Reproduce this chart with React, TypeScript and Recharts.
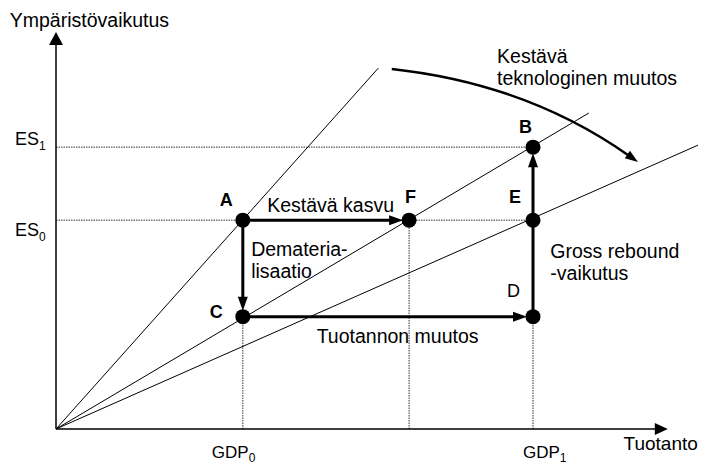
import React from 'react';
import { ComposedChart, XAxis, YAxis, Scatter, ReferenceLine, ReferenceDot } from 'recharts';

const W = 704;
const H = 464;
const FONT = '"Liberation Sans", Arial, Helvetica, sans-serif';

// axis ticks (GDP on x, ES on y)
const xTicks = [29.1, 74.3];
const xTickSubs = ['0', '1'];
const yTicks = [52.6, 71.0];
const yTickSubs = ['0', '1'];

// named states in the diagram
const pointNames = ['A', 'F', 'C', 'D', 'E', 'B'];
const pointX = [29.1, 55.0, 29.1, 74.3, 74.3, 74.3];
const pointY = [52.6, 52.6, 28.3, 28.3, 52.6, 71.0];

// rays from the origin, given by their far ends
const rayX = [50.2, 83.0, 100];
const rayY = [90.9, 79.6, 71.5];

// thick arrows between states
const arrowFrom = ['A', 'A', 'C', 'D'];
const arrowTo = ['F', 'C', 'D', 'B'];

// dotted guides: horizontal ones to these states, vertical ones to these
const hGuides = ['B', 'E'];
const vGuides = ['C', 'F', 'D'];

// curved arrow (technological change)
const curveFrom = { x: 52.3, y: 90.7 };
const curveTo = { x: 90.65, y: 67.25 };

// axis arrows
const xAxisEnd = 95.3;
const yAxisEnd = 100;

// free texts
const noteX = [32.9, 30.4, 40.6, 77.0, 68.7, -7.2, 88.4];
const noteY = [54.7, 43.6, 21.7, 43.1, 92.2, 101.3, -5.3];
const noteSize = [19.5, 19.5, 19.5, 19.5, 19.5, 19.5, 19];
const noteLines = [
  ['Kestävä kasvu'],
  ['Demateria-', 'lisaatio'],
  ['Tuotannon muutos'],
  ['Gross rebound', '-vaikutus'],
  ['Kestävä', 'teknologinen muutos'],
  ['Ympäristövaikutus'],
  ['Tuotanto'],
];

// label placement around the dots (pixels)
const labelDx = [-23, -4, -33, -26, -24, -14];
const labelDy = [-14, -17, 1, -20, -17, -14];
const labelBold = [true, true, true, false, true, true];

const pt = (name: string) => {
  const i = pointNames.indexOf(name);
  return { x: pointX[i], y: pointY[i] };
};

const arrowShape = (width: number, head: number, half: number, trim: number) => (p: any) => {
  const { x1, y1, x2, y2 } = p;
  const dx = x2 - x1;
  const dy = y2 - y1;
  const len = Math.hypot(dx, dy) || 1;
  const ux = dx / len;
  const uy = dy / len;
  const tx = x2 - ux * trim;
  const ty = y2 - uy * trim;
  const bx = tx - ux * head;
  const by = ty - uy * head;
  const nx = -uy;
  const ny = ux;
  return (
    <g>
      <line x1={x1} y1={y1} x2={bx + ux * 2} y2={by + uy * 2} stroke="#000" strokeWidth={width} />
      <polygon
        points={`${tx},${ty} ${bx + nx * half},${by + ny * half} ${bx - nx * half},${by - ny * half}`}
        fill="#000"
      />
    </g>
  );
};

const curveShape = (p: any) => {
  const { x1, y1, x2, y2 } = p;
  const dx = x2 - x1;
  const dy = y2 - y1;
  const len = Math.hypot(dx, dy) || 1;
  const cx = (x1 + x2) / 2 + (dy / len) * 34;
  const cy = (y1 + y2) / 2 - (dx / len) * 34;
  const tl = Math.hypot(x2 - cx, y2 - cy) || 1;
  const ux = (x2 - cx) / tl;
  const uy = (y2 - cy) / tl;
  const head = 13;
  const half = 4.5;
  const bx = x2 - ux * head;
  const by = y2 - uy * head;
  return (
    <g>
      <path
        d={`M${x1},${y1} Q${cx},${cy} ${bx + ux * 2},${by + uy * 2}`}
        fill="none"
        stroke="#000"
        strokeWidth={2.5}
      />
      <polygon
        points={`${x2},${y2} ${bx - uy * half},${by + ux * half} ${bx + uy * half},${by - ux * half}`}
        fill="#000"
      />
    </g>
  );
};

const XTick = (p: any) => {
  const i = xTicks.indexOf(p.payload.value);
  const nudge = [-31, -10][i] ?? 0;
  return (
    <text x={p.x + nudge} y={p.y + 29} fontFamily={FONT} fontSize={17} fill="#000">
      GDP
      <tspan dy={4} fontSize={12}>{xTickSubs[i]}</tspan>
    </text>
  );
};

const YTick = (p: any) => {
  const i = yTicks.indexOf(p.payload.value);
  const dy = [16, -2][i] ?? 0;
  return (
    <text x={p.x - 41} y={p.y + dy} fontFamily={FONT} fontSize={18} fill="#000">
      ES
      <tspan dy={5} fontSize={12}>{yTickSubs[i]}</tspan>
    </text>
  );
};

const DotShape = (p: any) => {
  const i = pointNames.indexOf(p.payload.name);
  return (
    <g>
      <circle cx={p.cx} cy={p.cy} r={7.5} fill="#000" />
      <text
        x={p.cx + labelDx[i]}
        y={p.cy + labelDy[i]}
        fontFamily={FONT}
        fontSize={18}
        fontWeight={labelBold[i] ? 'bold' : 'normal'}
        fill="#000"
      >
        {p.payload.name}
      </text>
    </g>
  );
};

export default function App() {
  const points = pointNames.map((name, i) => ({ name, x: pointX[i], y: pointY[i] }));
  return (
    <div style={{ position: 'absolute', left: 0, top: 0, width: W, height: H, background: '#fff' }}>
      <ComposedChart width={W} height={H} margin={{ top: 32, right: 6, bottom: 0, left: 0 }}>
        <XAxis
          type="number"
          dataKey="x"
          domain={[0, 100]}
          ticks={xTicks}
          allowDataOverflow
          axisLine={false}
          tickLine={false}
          tickSize={0}
          tickMargin={0}
          height={35}
          tick={<XTick />}
        />
        <YAxis
          type="number"
          dataKey="y"
          domain={[0, 100]}
          ticks={yTicks}
          allowDataOverflow
          axisLine={false}
          tickLine={false}
          tickSize={0}
          tickMargin={0}
          width={56}
          tick={<YTick />}
        />

        {hGuides.map((n) => (
          <ReferenceLine
            key={'h' + n}
            segment={[{ x: 0, y: pt(n).y }, pt(n)]}
            stroke="#333"
            strokeWidth={1}
            strokeDasharray="1.5 1"
            ifOverflow="visible"
          />
        ))}
        {vGuides.map((n) => (
          <ReferenceLine
            key={'v' + n}
            segment={[{ x: pt(n).x, y: 0 }, pt(n)]}
            stroke="#333"
            strokeWidth={1}
            strokeDasharray="1.5 1"
            ifOverflow="visible"
          />
        ))}

        {rayX.map((x, i) => (
          <ReferenceLine
            key={'r' + i}
            segment={[{ x: 0, y: 0 }, { x, y: rayY[i] }]}
            stroke="#000"
            strokeWidth={1}
            ifOverflow="visible"
          />
        ))}

        <ReferenceLine
          segment={[{ x: 0, y: 0 }, { x: xAxisEnd, y: 0 }]}
          ifOverflow="visible"
          shape={arrowShape(1.5, 13, 6, 0)}
        />
        <ReferenceLine
          segment={[{ x: 0, y: 0 }, { x: 0, y: yAxisEnd }]}
          ifOverflow="visible"
          shape={arrowShape(1.5, 13, 7, 0)}
        />

        {arrowFrom.map((f, i) => (
          <ReferenceLine
            key={'a' + i}
            segment={[pt(f), pt(arrowTo[i])]}
            ifOverflow="visible"
            shape={arrowShape(3, 14, 5, 6)}
          />
        ))}

        <ReferenceLine segment={[curveFrom, curveTo]} ifOverflow="visible" shape={curveShape} />

        {noteLines.map((lines, i) => (
          <ReferenceDot
            key={'n' + i}
            x={noteX[i]}
            y={noteY[i]}
            r={0}
            ifOverflow="visible"
            shape={(p: any) => (
              <text x={p.cx} y={p.cy} fontFamily={FONT} fontSize={noteSize[i]} fill="#000">
                {lines.map((l, j) => (
                  <tspan key={j} x={p.cx} dy={j === 0 ? 0 : 22}>
                    {l}
                  </tspan>
                ))}
              </text>
            )}
          />
        ))}

        <Scatter data={points} dataKey="y" isAnimationActive={false} shape={<DotShape />} />
      </ComposedChart>
    </div>
  );
}
